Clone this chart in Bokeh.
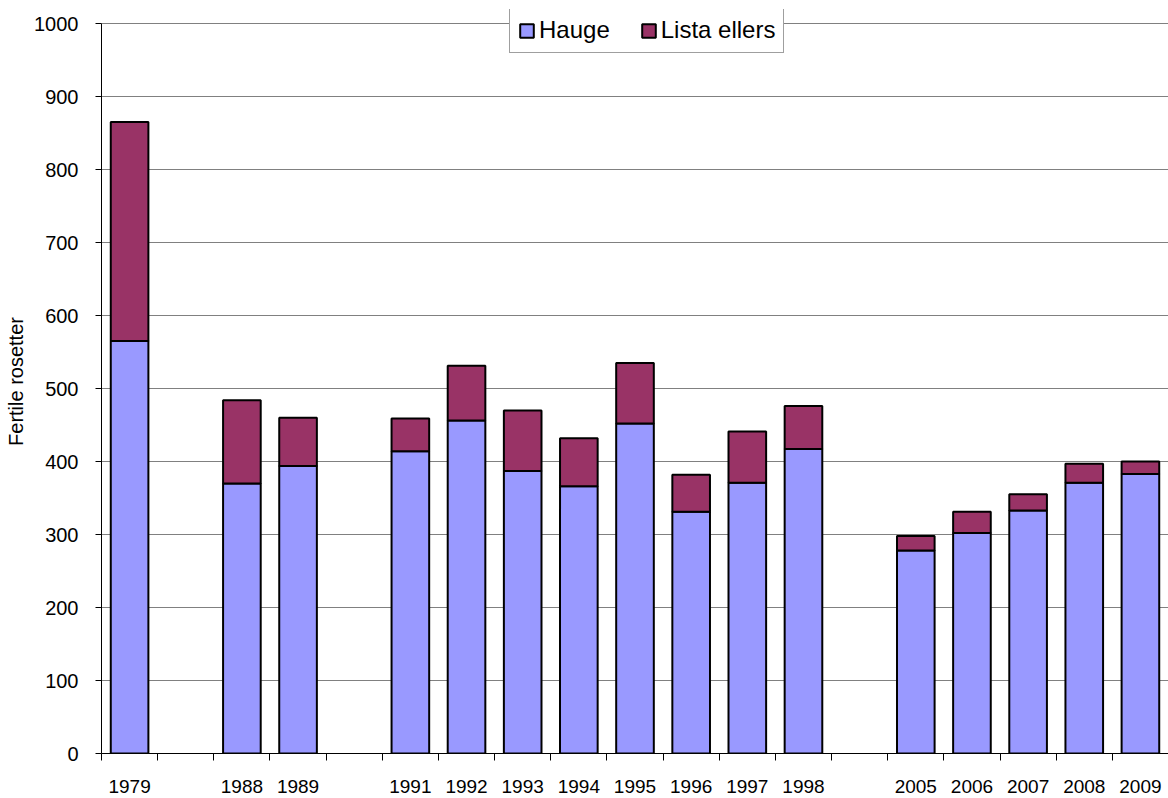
from bokeh.plotting import figure
from bokeh.models import Range1d, FixedTicker, ColumnDataSource, Legend, LegendItem
from bokeh.embed import file_html
from bokeh.resources import INLINE

# Category slots (empty strings are gaps between survey periods)
slots = ["1979", "", "1988", "1989", "", "1991", "1992", "1993", "1994", "1995",
         "1996", "1997", "1998", "", "2005", "2006", "2007", "2008", "2009"]
years = [s for s in slots if s]
hauge = [565, 370, 394, 414, 456, 387, 366, 452, 331, 371, 417, 278, 302, 333, 371, 383]
lista = [300, 114, 66, 45, 75, 83, 66, 83, 51, 70, 59, 20, 29, 22, 26, 17]
y_ticks = list(range(0, 1001, 100))
series_names = ["Hauge", "Lista ellers"]

FONT = "Liberation Sans"

x_pos = [slots.index(y) + 0.5 for y in years]
total = [h + l for h, l in zip(hauge, lista)]
src = ColumnDataSource(dict(x=x_pos, hauge=hauge, lista=lista, total=total))

# frame extends a little above 1000 so the legend can overlap the top gridline
Y_MAX = 1000
FRAME_H = 744
y_end = Y_MAX * FRAME_H / 730

p = figure(frame_width=1067, frame_height=FRAME_H, output_backend="svg", toolbar_location=None,
           x_range=Range1d(0, len(slots)), y_range=Range1d(0, y_end))
p.min_border_left = 101
p.min_border_top = 9
p.min_border_bottom = 45
p.min_border_right = 0
p.outline_line_color = None
p.background_fill_color = "white"
p.border_fill_color = "white"

r1 = p.vbar(x="x", bottom=0, top="hauge", width=0.67, source=src,
            fill_color="#9999FF", line_color="black", line_width=2)
r2 = p.vbar(x="x", bottom="hauge", top="total", width=0.67, source=src,
            fill_color="#993366", line_color="black", line_width=2)

# x axis: labels at category centres, tick marks at category boundaries
centers = [i + 0.5 for i in range(len(slots))]
bounds = list(range(len(slots) + 1))
xa = p.xaxis[0]
xa.ticker = FixedTicker(ticks=centers, minor_ticks=bounds)
xa.major_label_overrides = {c: s for c, s in zip(centers, slots)}
xa.major_tick_out = 0
xa.major_tick_in = 0
xa.minor_tick_out = 7
xa.minor_tick_in = 0
xa.minor_tick_line_color = "black"
xa.axis_line_color = "black"
xa.major_label_standoff = 19
xa.major_label_text_font = FONT
xa.major_label_text_font_size = "19px"
xa.major_label_text_color = "black"

ya = p.yaxis[0]
ya.bounds = (0, Y_MAX)
ya.ticker = FixedTicker(ticks=y_ticks)
ya.minor_tick_line_color = None
ya.major_tick_out = 6
ya.major_tick_in = 0
ya.major_tick_line_color = "black"
ya.axis_line_color = "black"
ya.major_label_standoff = 17
ya.major_label_text_font = FONT
ya.major_label_text_font_size = "20px"
ya.major_label_text_color = "black"
ya.axis_label = "Fertile rosetter"
ya.axis_label_text_font = FONT
ya.axis_label_text_font_size = "20px"
ya.axis_label_text_font_style = "normal"
ya.axis_label_text_color = "black"
ya.axis_label_standoff = 4

p.xgrid.grid_line_color = None
p.ygrid.ticker = FixedTicker(ticks=y_ticks)
p.ygrid.grid_line_color = "#808080"
p.ygrid.grid_line_width = 1

legend = Legend(items=[LegendItem(label=series_names[0], renderers=[r1]),
                       LegendItem(label=series_names[1], renderers=[r2])],
                orientation="horizontal", location=(408, 700))
legend.label_text_font = FONT
legend.label_text_font_size = "24px"
legend.label_text_color = "black"
legend.glyph_width = 17
legend.glyph_height = 17
legend.label_standoff = 4
legend.spacing = 30
legend.padding = 8
legend.margin = 0
legend.border_line_color = "#404040"
legend.border_line_width = 1
legend.background_fill_color = "white"
legend.background_fill_alpha = 1
p.add_layout(legend, "center")

open("out.html", "w").write(file_html(p, INLINE))
